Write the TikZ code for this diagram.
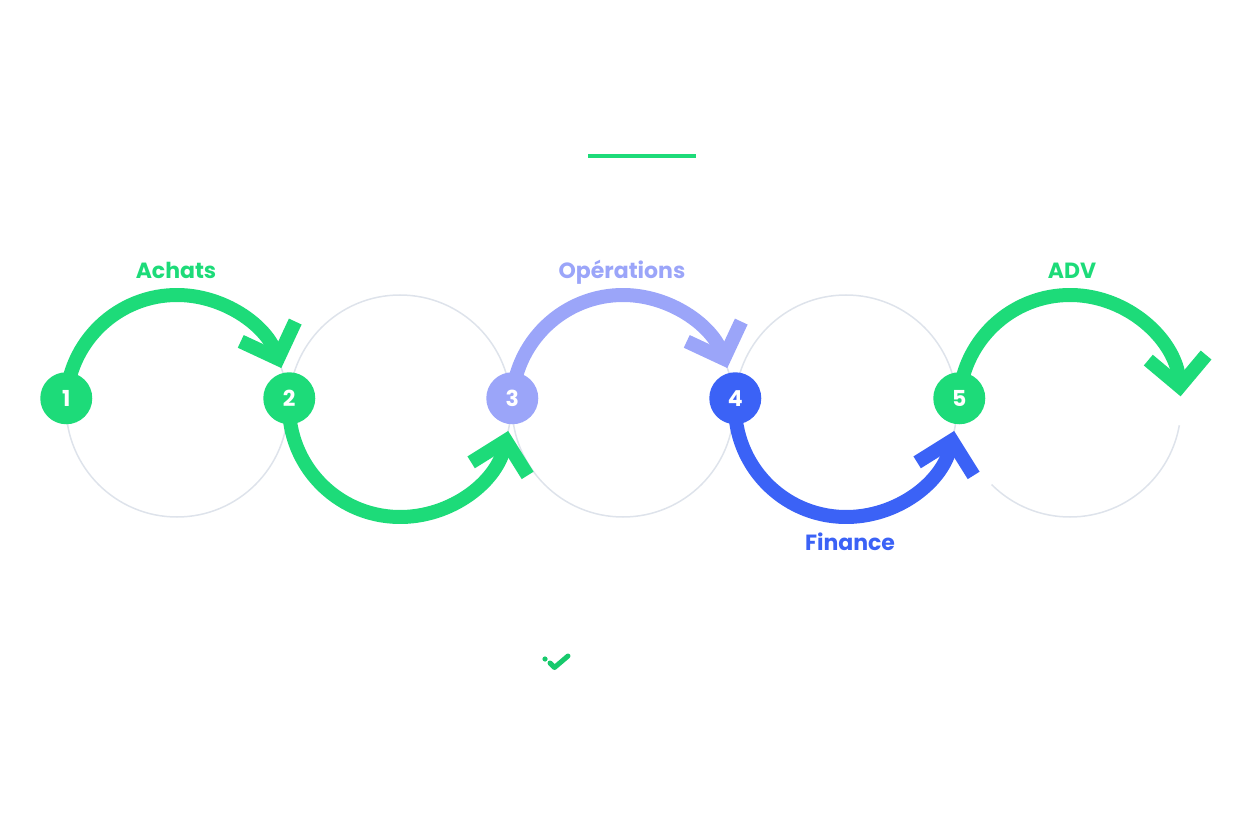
\documentclass[tikz,border=0pt]{standalone}
\usepackage{fontspec}
\setmainfont{Poppins}
\usepackage{tikz}
\usetikzlibrary{arrows.meta,positioning,backgrounds}
\definecolor{mintgreen}{HTML}{1DDB79}
\definecolor{tickgreen}{HTML}{17C96C}
\definecolor{lilac}{HTML}{9BA5F9}
\definecolor{royalblue}{HTML}{3B62F6}
\definecolor{guidegrey}{HTML}{DEE3EB}
\tikzset{
    %Define style for numbered steps
    stepnode/.style={
           circle,
           minimum size=52pt,
           inner sep=0pt,
           text=white,
           font=\fontsize{22}{24}\selectfont\bfseries},
    %Define style for department labels
    dept/.style={
           anchor=base,
           font=\fontsize{22}{26}\selectfont\bfseries},
    %Define style for the thin circles
    guide/.style={
           draw=guidegrey,
           line width=1.5pt},
    % Define arrow style
    flow/.style={
           line width=14pt,
           -{Straight Barb[length=29pt,width=58pt,line cap=butt,line join=miter]}}
}
\begin{document}
\begin{tikzpicture}[x=1pt,y=1pt]
\useasboundingbox (0,-410) rectangle (1250,406);
 %circle centres
\coordinate (c1) at (177,0);
\coordinate (c2) at (400,0);
\coordinate (c3) at (623,0);
\coordinate (c4) at (846,0);
\coordinate (c5) at (1070,0);
 %nodes
\node[stepnode, fill=mintgreen] (n1) at ([shift={(176:111pt)}]c1) {1};
\node[stepnode, fill=mintgreen] (n2) at ([shift={(176:111pt)}]c2) {2};
\node[stepnode, fill=lilac] (n3) at ([shift={(176:111pt)}]c3) {3};
\node[stepnode, fill=royalblue] (n4) at ([shift={(176:111pt)}]c4) {4};
\node[stepnode, fill=mintgreen] (n5) at ([shift={(176:111pt)}]c5) {5};
 %labels
\node[dept, text=mintgreen] (achats) at (176,127) {Achats};
\node[dept, text=lilac] (operations) at (622,127) {Opérations};
\node[dept, text=royalblue] (finance) at (850,-144) {Finance};
\node[dept, text=mintgreen] (adv) at (1072,127) {ADV};
 %title rule and tick
\draw[mintgreen, line width=4pt] (588,250) -- (696,250);
\fill[tickgreen] (545,-253) circle[radius=2.6pt];
\draw[tickgreen, line width=5pt, line cap=round, line join=round]
    (550,-257) -- (554.5,-261.5) -- (568,-250);
\begin{scope}[on background layer]
 %thin circles
\foreach \c in {c1,c2,c3,c4}
    \draw[guide] (\c) circle[radius=111pt];
\draw[guide] ([shift={(225:111pt)}]c5) arc[start angle=225, end angle=350, radius=111pt];
 %arrows
\draw[flow, mintgreen] (n1.center) arc[start angle=176, end angle=20, radius=111pt];
\draw[flow, mintgreen] (n2.center) arc[start angle=176, end angle=347, radius=111pt];
\draw[flow, lilac] (n3.center) arc[start angle=176, end angle=20, radius=111pt];
\draw[flow, royalblue] (n4.center) arc[start angle=176, end angle=347, radius=111pt];
\draw[flow, mintgreen] (n5.center) arc[start angle=176, end angle=5, radius=111pt];
\end{scope}
\end{tikzpicture}
\end{document}
